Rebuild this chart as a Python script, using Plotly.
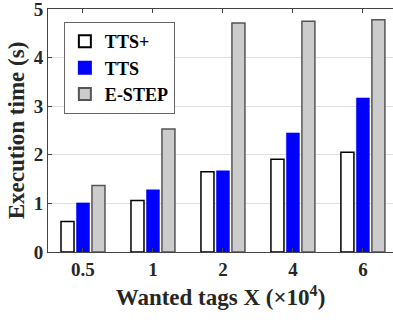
import plotly.graph_objects as go

categories = ["0.5", "1", "2", "4", "6"]
tts_plus = [0.63, 1.06, 1.65, 1.91, 2.05]
tts = [1.01, 1.28, 1.67, 2.45, 3.17]
e_step = [1.37, 2.53, 4.71, 4.75, 4.78]
y_ticks = [0, 1, 2, 3, 4, 5]

FONT = "Liberation Serif, Times New Roman, serif"

fig = go.Figure()
fig.add_trace(go.Bar(x=categories, y=tts_plus, name="<b>TTS+</b>",
                     marker=dict(color="white", line=dict(color="black", width=1.5))))
fig.add_trace(go.Bar(x=categories, y=tts, name="<b>TTS</b>",
                     marker=dict(color="#0000FF", line=dict(color="#0000FF", width=0.5))))
fig.add_trace(go.Bar(x=categories, y=e_step, name="<b>E-STEP</b>",
                     marker=dict(color="#CCCCCC", line=dict(color="#555555", width=1.5))))

fig.update_layout(
    width=393, height=320,
    margin=dict(l=48, r=0, t=9, b=68, autoexpand=False),
    barmode="group", bargap=0.336, bargroupgap=0.16,
    plot_bgcolor="white", paper_bgcolor="white",
    font=dict(family=FONT, size=16, color="#262626"),
    showlegend=True,
    legend=dict(x=0.046, y=0.946, xanchor="left", yanchor="top",
                bgcolor="white", bordercolor="#666666", borderwidth=1,
                font=dict(family=FONT, size=18, color="black"),
                tracegroupgap=0, itemsizing="constant", itemwidth=30),
    xaxis=dict(type="category", range=[-0.5, 4.43], automargin=False,
               showline=True, linecolor="#444444", linewidth=1, mirror="ticks",
               ticks="inside", ticklen=4, tickcolor="#444444",
               tickvals=categories, ticktext=["<b>%s</b>" % c for c in categories],
               tickfont=dict(family=FONT, size=19, color="#262626"),
               title=dict(text="<b>Wanted tags X (×10<sup>4</sup>)</b>", standoff=10,
                          font=dict(family=FONT, size=23, color="#262626"))),
    yaxis=dict(range=[0, 5.0001], tickvals=y_ticks, automargin=False,
               ticktext=["<b>%d</b>" % v for v in y_ticks], ticklabeloverflow="allow",
               showline=True, linecolor="#444444", linewidth=1,
               ticks="inside", ticklen=4, tickcolor="#444444",
               showgrid=True, gridcolor="#E0E0E0", gridwidth=1, zeroline=False,
               tickfont=dict(family=FONT, size=19, color="#262626"),
               title=dict(text="<b>Execution time (s)</b>", standoff=2,
                          font=dict(family=FONT, size=23, color="#262626"))),
)

fig.write_html("out.html", config={"displayModeBar": False},
               post_script="document.body.style.margin='0';document.body.style.overflow='hidden';")
